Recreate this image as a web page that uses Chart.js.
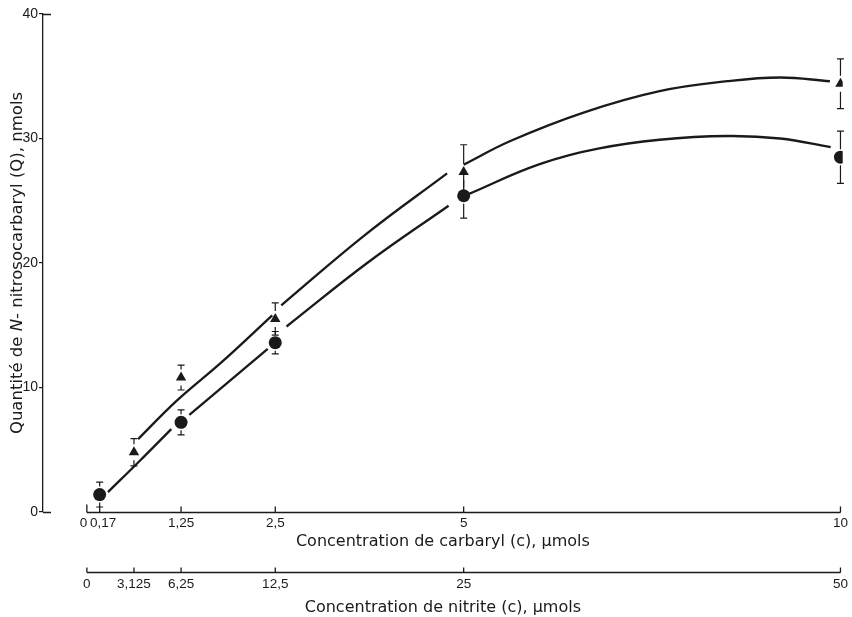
<!DOCTYPE html>
<html><head><meta charset="utf-8">
<script src="https://cdn.jsdelivr.net/npm/chart.js@4.4.0/dist/chart.umd.min.js"></script>
<style>html,body{margin:0;padding:0;background:#fff}#wrap{width:852px;height:617px;position:relative}</style>
</head><body><div id="wrap"><canvas id="c"></canvas></div>
<script>
// ---- data ----
const carbarylTicks = [0, 0.17, 1.25, 2.5, 5, 10];
const carbarylTickLabels = ['0', '0,17', '1,25', '2,5', '5', '10'];
const nitriteTicks = [0, 3.125, 6.25, 12.5, 25, 50];
const nitriteTickLabels = ['0', '3,125', '6,25', '12,5', '25', '50'];
const yTicks = [0, 10, 20, 30, 40];

const circleX = [0.17, 1.25, 2.5, 5, 10];          // carbaryl, µmols
const circleY = [1.4, 7.2, 13.6, 25.4, 28.5];
const circleErr = [1.0, 1.0, 0.9, 1.8, 2.1];
const triangleX = [3.125, 6.25, 12.5, 25, 50];     // nitrite, µmols
const triangleY = [4.8, 10.8, 15.5, 27.3, 34.4];
const triangleErr = [1.1, 1.0, 1.3, 2.2, 2.0];

// fitted curves; null marks a break in the drawn line
const upperCurveX = [3.4, 5.95, 9.0, 12.3, null, 12.9, 18.4, 23.9, null, 25.0, 28.1, 33.0, 38.0, 42.5, 46.0, 49.3];
const upperCurveY = [5.85, 8.93, 12.1, 15.8, null, 16.6, 22.2, 27.2, null, 27.9, 29.8, 32.1, 33.8, 34.6, 34.9, 34.6];
const lowerCurveX = [0.28, 0.70, 1.12, null, 1.36, 2.40, null, 2.65, 3.72, 4.80, null, 5.07, 5.99, 6.8, 7.6, 8.5, 9.2, 9.87];
const lowerCurveY = [1.6, 4.1, 6.66, null, 7.8, 13.1, null, 14.9, 20.0, 24.6, null, 25.55, 27.9, 29.2, 29.9, 30.2, 30.0, 29.3];

const xTitle = 'Concentration de carbaryl (c), \u03bcmols';
const x2Title = 'Concentration de nitrite (c), \u03bcmols';
const yTitleParts = [['Quantit\u00e9 de ', false], ['N', true], ['- nitrosocarbaryl (Q), nmols', false]];

// ---- styling ----
const ink = '#1a1a1a';
const tickFont = {family: '"Liberation Sans", Arial, sans-serif', size: 13.5};
const yTickFont = {family: '"Liberation Sans", Arial, sans-serif', size: 14};
const titleFont = {family: '"DejaVu Sans", sans-serif', size: 16};

function toPoints(xs, ys) {
  const out = []; let last = null;
  for (let i = 0; i < xs.length; i++) {
    if (xs[i] === null) out.push({x: last, y: null});
    else { out.push({x: xs[i], y: ys[i]}); last = xs[i]; }
  }
  return out;
}
const pts = (xs, ys) => xs.map((x, i) => ({x, y: ys[i]}));

const errorBars = {
  id: 'errorBars',
  beforeDatasetsDraw(chart) {
    const {ctx, scales} = chart;
    const y = scales.y;
    const sets = [
      {xs: circleX, ys: circleY, es: circleErr, sc: scales.x},
      {xs: triangleX, ys: triangleY, es: triangleErr, sc: scales.x2}
    ];
    ctx.save();
    ctx.strokeStyle = ink; ctx.lineWidth = 1.2;
    const gap = 8, cap = 3.5;
    sets.forEach(s => s.xs.forEach((xv, i) => {
      const px = s.sc.getPixelForValue(xv);
      const py = y.getPixelForValue(s.ys[i]);
      const pt = y.getPixelForValue(s.ys[i] + s.es[i]);
      const pb = y.getPixelForValue(s.ys[i] - s.es[i]);
      ctx.beginPath();
      if (py - gap > pt) { ctx.moveTo(px, pt); ctx.lineTo(px, py - gap); }
      if (pb > py + gap) { ctx.moveTo(px, py + gap); ctx.lineTo(px, pb); }
      ctx.moveTo(px - cap, pt); ctx.lineTo(px + cap, pt);
      ctx.moveTo(px - cap, pb); ctx.lineTo(px + cap, pb);
      ctx.stroke();
    }));
    ctx.restore();
  }
};

const decor = {
  id: 'decor',
  afterDraw(chart) {
    const {ctx, scales, chartArea} = chart;
    const x = scales.x, x2 = scales.x2, y = scales.y;
    ctx.save();
    ctx.strokeStyle = ink; ctx.lineWidth = 1.3;
    // carbaryl axis
    const ya = Math.round(x.top) + 0.5;
    ctx.beginPath();
    ctx.moveTo(x.getPixelForValue(carbarylTicks[0]), ya);
    ctx.lineTo(x.getPixelForValue(carbarylTicks[carbarylTicks.length - 1]), ya);
    carbarylTicks.forEach((v, i) => {
      const p = x.getPixelForValue(v);
      ctx.moveTo(p, ya); ctx.lineTo(p, ya - (i === 0 ? 8 : 6));
    });
    ctx.stroke();
    // nitrite axis
    const yb = Math.round(x2.top) + 0.5;
    ctx.beginPath();
    ctx.moveTo(x2.getPixelForValue(nitriteTicks[0]), yb);
    ctx.lineTo(x2.getPixelForValue(nitriteTicks[nitriteTicks.length - 1]), yb);
    nitriteTicks.forEach(v => {
      const p = x2.getPixelForValue(v);
      ctx.moveTo(p, yb); ctx.lineTo(p, yb - 5);
    });
    ctx.stroke();
    // y axis corners
    const left = chartArea.left;
    ctx.beginPath();
    [yTicks[0], yTicks[yTicks.length - 1]].forEach(v => {
      const p = Math.round(y.getPixelForValue(v)) + 0.5;
      ctx.moveTo(left, p); ctx.lineTo(left + 8, p);
    });
    ctx.stroke();
    // y title with italic N
    ctx.fillStyle = ink;
    ctx.textBaseline = 'middle';
    const fam = '"DejaVu Sans", sans-serif';
    const size = 16.5;
    let total = 0;
    const widths = yTitleParts.map(([t, it]) => {
      ctx.font = (it ? 'italic ' : '') + size + 'px ' + fam;
      const w = ctx.measureText(t).width; total += w; return w;
    });
    ctx.translate(18, (chartArea.top + chartArea.bottom) / 2);
    ctx.rotate(-Math.PI / 2);
    let cx = -total / 2;
    yTitleParts.forEach(([t, it], i) => {
      ctx.font = (it ? 'italic ' : '') + size + 'px ' + fam;
      ctx.textAlign = 'left';
      ctx.fillText(t, cx, 0);
      cx += widths[i];
    });
    ctx.restore();
  }
};

const chart = new Chart(document.getElementById('c'), {
  type: 'line',
  data: {
    datasets: [
      {type: 'scatter', data: pts(circleX, circleY), xAxisID: 'x', yAxisID: 'y',
        pointStyle: 'circle', pointRadius: 6.5, backgroundColor: ink, borderColor: ink, borderWidth: 0, order: 1},
      {type: 'scatter', data: pts(triangleX, triangleY), xAxisID: 'x2', yAxisID: 'y',
        pointStyle: 'triangle', pointRadius: 6, backgroundColor: ink, borderColor: ink, borderWidth: 0, order: 1},
      {type: 'line', data: toPoints(upperCurveX, upperCurveY), xAxisID: 'x2', yAxisID: 'y',
        borderColor: ink, borderWidth: 2.3, pointRadius: 0, tension: 0.4, spanGaps: false, fill: false, order: 3},
      {type: 'line', data: toPoints(lowerCurveX, lowerCurveY), xAxisID: 'x', yAxisID: 'y',
        borderColor: ink, borderWidth: 2.3, pointRadius: 0, tension: 0.4, spanGaps: false, fill: false, order: 3}
    ]
  },
  options: {
    responsive: true, maintainAspectRatio: false, animation: false,
    layout: {padding: {left: 0, right: 7, top: 14, bottom: 0}},
    plugins: {legend: {display: false}, tooltip: {enabled: false}},
    scales: {
      x: {
        type: 'linear', position: 'bottom', min: -0.582, max: 10.03,
        afterFit(s) { s.height = 60; },
        afterBuildTicks(s) { s.ticks = carbarylTicks.map(v => ({value: v})); },
        grid: {display: false, drawTicks: false}, border: {display: false},
        ticks: {autoSkip: false, maxRotation: 0, padding: 3, color: ink, font: tickFont,
          callback: (v, i) => i === 0 ? carbarylTickLabels[i] + '\u2002' : (i === 1 ? '\u2002' + carbarylTickLabels[i] : carbarylTickLabels[i])},
        title: {display: true, text: xTitle, color: ink, font: titleFont, padding: {top: 0, bottom: 21}}
      },
      x2: {
        type: 'linear', position: 'bottom', min: -2.91, max: 50.15,
        afterFit(s) { s.height = 45; },
        afterBuildTicks(s) { s.ticks = nitriteTicks.map(v => ({value: v})); },
        grid: {display: false, drawTicks: false}, border: {display: false},
        ticks: {autoSkip: false, maxRotation: 0, padding: 4, color: ink, font: tickFont,
          callback: (v, i) => nitriteTickLabels[i]},
        title: {display: true, text: x2Title, color: ink, font: titleFont, padding: {top: 0, bottom: 0}}
      },
      y: {
        type: 'linear', position: 'left', min: 0, max: 40,
        afterFit(s) { s.width = 43; },
        afterBuildTicks(s) { s.ticks = yTicks.map(v => ({value: v})); },
        grid: {drawOnChartArea: false, drawTicks: true, tickLength: 4, color: ink, lineWidth: 1.2},
        border: {display: true, color: ink, width: 1.3},
        ticks: {padding: 1, color: ink, font: yTickFont}
      }
    }
  },
  plugins: [errorBars, decor]
});
</script>
</body></html>
